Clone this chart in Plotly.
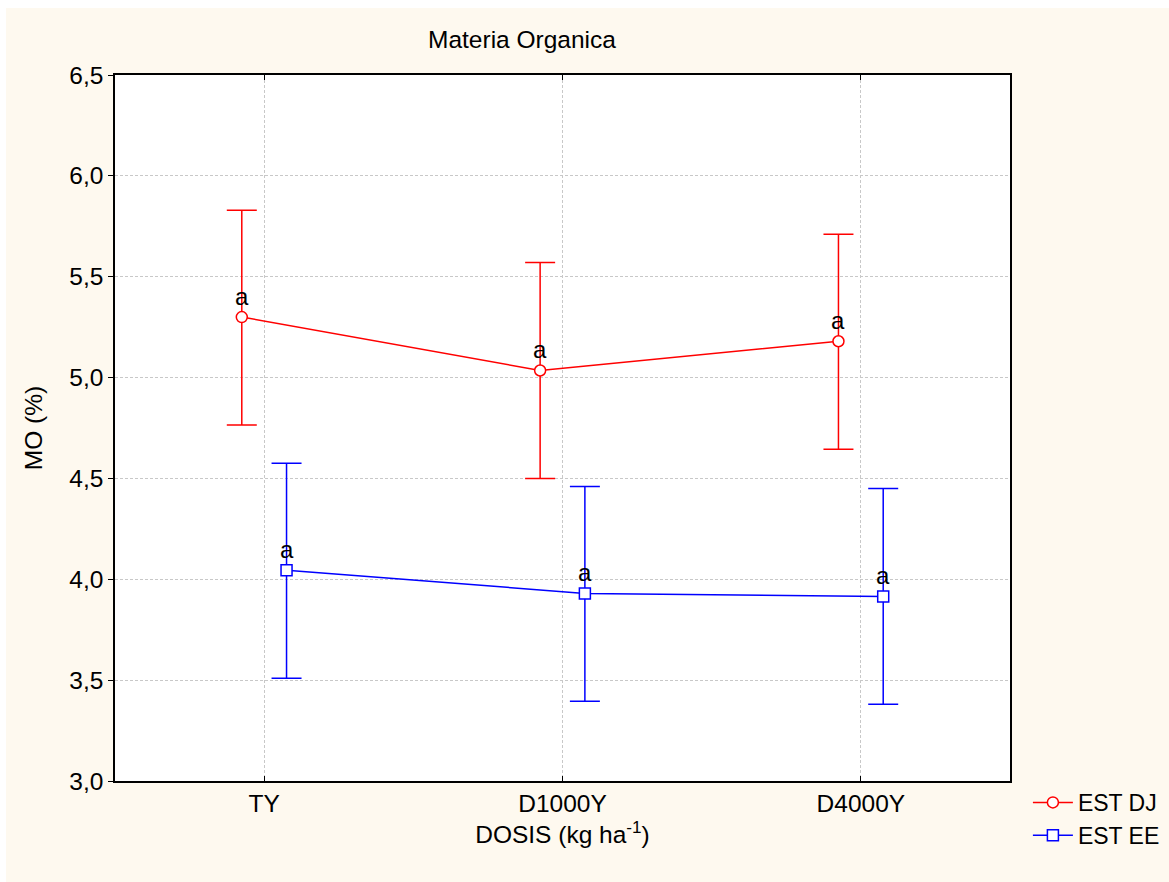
import plotly.graph_objects as go

categories = ["TY", "D1000Y", "D4000Y"]
dj_mean = [5.30, 5.035, 5.18]
dj_upper = [5.83, 5.57, 5.71]
dj_lower = [4.765, 4.50, 4.645]
ee_mean = [4.045, 3.93, 3.915]
ee_upper = [4.575, 4.46, 4.45]
ee_lower = [3.51, 3.395, 3.38]
letters_dj = ["a", "a", "a"]
letters_ee = ["a", "a", "a"]
y_ticks = [3.0, 3.5, 4.0, 4.5, 5.0, 5.5, 6.0, 6.5]

OFF = 0.075
pos = list(range(len(categories)))
CREAM = "#FEF9EF"
FONT = "Liberation Sans, Arial, sans-serif"
FS = 24.5

fig = go.Figure()
annots = []

def add_series(name, means, up, lo, color, symbol, shift, letters):
    xs = [p + shift for p in pos]
    fig.add_trace(go.Scatter(
        x=xs, y=means, name=name, mode="lines+markers",
        line=dict(color=color, width=1.5),
        marker=dict(symbol=symbol, size=11, color="white",
                    line=dict(color=color, width=1.5)),
        error_y=dict(type="data", symmetric=False,
                     array=[u - m for u, m in zip(up, means)],
                     arrayminus=[m - l for m, l in zip(means, lo)],
                     color=color, thickness=1.5, width=15),
    ))
    for x, y, t in zip(xs, means, letters):
        annots.append(dict(x=x, y=y, text=t, showarrow=False, xanchor="center",
                           yanchor="middle", yshift=21,
                           font=dict(size=24, color="black", family=FONT)))

add_series("EST DJ", dj_mean, dj_upper, dj_lower, "#FF0000", "circle", -OFF, letters_dj)
add_series("EST EE", ee_mean, ee_upper, ee_lower, "#0000FF", "square", OFF, letters_ee)

annots.append(dict(text="Materia Organica", x=0.455, y=1.0, xref="paper", yref="paper",
                   xanchor="center", yanchor="bottom", yshift=20, showarrow=False,
                   font=dict(size=FS)))

fig.update_layout(
    width=1169, height=882,
    margin=dict(l=115, r=159, t=75, b=101, autoexpand=False),
    paper_bgcolor=CREAM, plot_bgcolor="white",
    separators=",.",
    font=dict(family=FONT, size=FS, color="black"),
    showlegend=True,
    legend=dict(x=1.02, y=0.0, xanchor="left", yanchor="top",
                bgcolor="rgba(0,0,0,0)", font=dict(size=23),
                tracegroupgap=0, itemwidth=40),
    annotations=annots,
    shapes=[
        dict(type="rect", xref="paper", yref="paper", x0=-0.2, x1=1.3,
             y0=1.0 + 75 / 706, y1=1.0 + 67 / 706, fillcolor="white",
             line=dict(width=0), layer="below"),
        dict(type="rect", xref="paper", yref="paper", x0=-115 / 895, x1=-109 / 895,
             y0=-0.2, y1=1.2, fillcolor="white", line=dict(width=0), layer="below"),
    ],
)

fig.update_xaxes(
    range=[-0.5, 2.5], tickvals=pos, ticktext=categories,
    showline=True, linecolor="black", linewidth=1.5, mirror="allticks",
    ticks="inside", ticklen=5, tickcolor="black",
    showgrid=True, gridcolor="#C8C8C8", griddash="3px,2px", gridwidth=1,
    zeroline=False, tickfont=dict(size=FS),
    title=dict(text="DOSIS (kg ha<sup>-1</sup>)", font=dict(size=FS), standoff=3),
)
fig.update_yaxes(
    range=[3.0, 6.5], tickvals=y_ticks, tickformat=".1f",
    showline=True, linecolor="black", linewidth=1.5, mirror=True,
    ticks="outside", ticklen=5, tickcolor="black",
    showgrid=True, gridcolor="#C8C8C8", griddash="3px,2px", gridwidth=1,
    zeroline=False, tickfont=dict(size=FS),
    title=dict(text="MO (%)", font=dict(size=FS), standoff=20),
)

fig.write_html("out.html")
